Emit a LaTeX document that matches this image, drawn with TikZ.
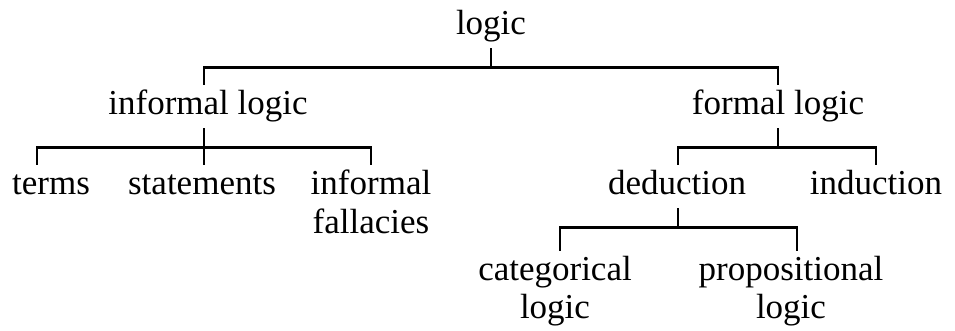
\documentclass[tikz,border=0pt]{standalone}
\usepackage{fontspec}
\setmainfont{Liberation Serif}
\tikzstyle{term} = [inner xsep=0pt, inner ysep=5pt, text height=25pt, text depth=8pt, align=center, anchor=base, font=\fontsize{35}{38}\selectfont]
\tikzstyle{twoline} = [term, text height=, text depth=]
\tikzstyle{branch} = [line width=2.8pt]

\begin{document}
\begin{tikzpicture}[x=1pt,y=-1pt]
\useasboundingbox (0,0) rectangle (955,331);
\node (logic) [term] at (491,35) {logic};
\node (informal) [term] at (208,115) {informal logic};
\node (formal) [term] at (778,115) {formal logic};
\node (terms) [term] at (51,195) {terms};
\node (statements) [term] at (202,195) {statements};
\node (fallacies) [twoline] at (371,233) {informal\\fallacies};
\node (deduction) [term] at (677,195) {deduction};
\node (induction) [term] at (876,195) {induction};
\node (categorical) [twoline] at (555,318) {categorical\\logic};
\node (propositional) [twoline] at (791,318) {propositional\\logic};

\draw [branch] (logic.south) -- ++(0,19) -| ([xshift=-4pt]informal.north);
\draw [branch] (logic.south) -- ++(0,19) -| (formal.north);
\draw [branch] ([xshift=-4pt]informal.south) -- ++(0,19) -| ([xshift=-14pt]terms.north);
\draw [branch] ([xshift=-4pt]informal.south) -- ++(0,19) -| ([xshift=2pt]statements.north);
\draw [branch] ([xshift=-4pt]informal.south) -- ++(0,19) -| (fallacies.north);
\draw [branch] (formal.south) -- ++(0,19) -| ([xshift=1pt]deduction.north);
\draw [branch] (formal.south) -- ++(0,19) -| (induction.north);
\draw [branch] ([xshift=1pt]deduction.south) -- ++(0,19) -| ([xshift=5pt]categorical.north);
\draw [branch] ([xshift=1pt]deduction.south) -- ++(0,19) -| ([xshift=6pt]propositional.north);
\end{tikzpicture}
\end{document}
